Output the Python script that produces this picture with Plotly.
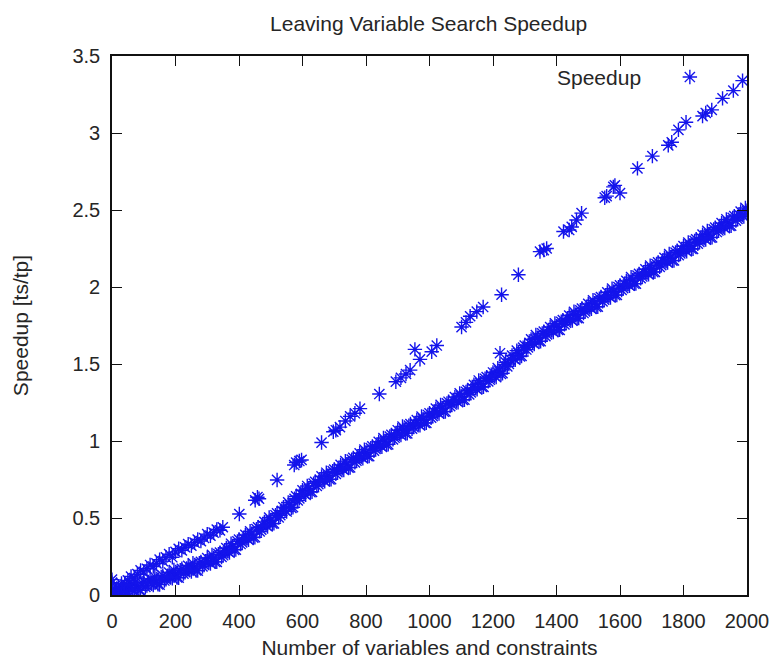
import plotly.graph_objects as go

# Main (dense) branch, first sweep: sizes 0, 10, ..., 2000
main_n_a = list(range(0, 2001, 10))
main_speedup_a = [
    0.030, 0.000, 0.020, 0.005, 0.045, 0.022, 0.065, 0.028, 0.060, 0.030,
    0.085, 0.061, 0.103, 0.064, 0.095, 0.068, 0.125, 0.102, 0.145, 0.108,
    0.140, 0.112, 0.170, 0.148, 0.190, 0.152, 0.185, 0.158, 0.215, 0.195,
    0.240, 0.205, 0.240, 0.215, 0.275, 0.258, 0.305, 0.275, 0.315, 0.295,
    0.360, 0.342, 0.390, 0.358, 0.395, 0.375, 0.440, 0.425, 0.475, 0.445,
    0.485, 0.465, 0.530, 0.518, 0.570, 0.542, 0.585, 0.570, 0.640, 0.628,
    0.680, 0.650, 0.690, 0.670, 0.735, 0.720, 0.770, 0.738, 0.775, 0.752,
    0.815, 0.798, 0.845, 0.812, 0.850, 0.828, 0.890, 0.872, 0.920, 0.888,
    0.925, 0.902, 0.965, 0.948, 0.995, 0.962, 1.000, 0.978, 1.040, 1.022,
    1.070, 1.038, 1.075, 1.050, 1.110, 1.090, 1.135, 1.102, 1.140, 1.118,
    1.180, 1.162, 1.210, 1.178, 1.215, 1.192, 1.255, 1.238, 1.285, 1.252,
    1.290, 1.268, 1.330, 1.315, 1.365, 1.335, 1.375, 1.352, 1.415, 1.398,
    1.445, 1.415, 1.455, 1.440, 1.510, 1.500, 1.555, 1.528, 1.570, 1.552,
    1.620, 1.608, 1.660, 1.630, 1.670, 1.648, 1.710, 1.692, 1.740, 1.708,
    1.745, 1.722, 1.785, 1.768, 1.815, 1.782, 1.820, 1.798, 1.860, 1.842,
    1.890, 1.858, 1.895, 1.872, 1.935, 1.918, 1.965, 1.932, 1.970, 1.948,
    2.010, 1.992, 2.040, 2.008, 2.045, 2.022, 2.085, 2.068, 2.115, 2.082,
    2.120, 2.098, 2.160, 2.142, 2.190, 2.158, 2.195, 2.172, 2.235, 2.218,
    2.265, 2.232, 2.270, 2.248, 2.310, 2.292, 2.340, 2.308, 2.345, 2.322,
    2.385, 2.368, 2.415, 2.382, 2.420, 2.398, 2.460, 2.442, 2.490, 2.458,
    2.495,
]

# Main branch, second sweep: sizes 5, 15, ..., 1995
main_n_b = list(range(5, 2000, 10))
main_speedup_b = [
    0.003, 0.043, 0.000, 0.038, 0.014, 0.046, 0.039, 0.082, 0.033, 0.078,
    0.053, 0.085, 0.076, 0.117, 0.069, 0.117, 0.094, 0.126, 0.119, 0.162,
    0.114, 0.161, 0.139, 0.172, 0.164, 0.206, 0.159, 0.207, 0.185, 0.220,
    0.215, 0.260, 0.215, 0.265, 0.247, 0.284, 0.283, 0.333, 0.293, 0.348,
    0.331, 0.369, 0.367, 0.414, 0.373, 0.428, 0.413, 0.453, 0.453, 0.503,
    0.463, 0.518, 0.504, 0.547, 0.549, 0.601, 0.565, 0.625, 0.614, 0.657,
    0.658, 0.708, 0.668, 0.723, 0.708, 0.748, 0.747, 0.794, 0.751, 0.804,
    0.787, 0.824, 0.821, 0.869, 0.827, 0.879, 0.861, 0.899, 0.897, 0.944,
    0.901, 0.954, 0.937, 0.974, 0.971, 1.019, 0.977, 1.029, 1.011, 1.049,
    1.047, 1.094, 1.050, 1.100, 1.080, 1.115, 1.111, 1.159, 1.117, 1.169,
    1.151, 1.189, 1.187, 1.234, 1.191, 1.244, 1.227, 1.264, 1.261, 1.309,
    1.267, 1.319, 1.303, 1.343, 1.343, 1.393, 1.351, 1.404, 1.387, 1.424,
    1.423, 1.473, 1.435, 1.495, 1.485, 1.530, 1.534, 1.587, 1.549, 1.606,
    1.594, 1.637, 1.638, 1.688, 1.647, 1.699, 1.681, 1.719, 1.717, 1.764,
    1.721, 1.774, 1.757, 1.794, 1.791, 1.839, 1.797, 1.849, 1.831, 1.869,
    1.867, 1.914, 1.871, 1.924, 1.907, 1.944, 1.941, 1.989, 1.947, 1.999,
    1.981, 2.019, 2.017, 2.064, 2.021, 2.074, 2.057, 2.094, 2.091, 2.139,
    2.097, 2.149, 2.131, 2.169, 2.167, 2.214, 2.171, 2.224, 2.207, 2.244,
    2.241, 2.289, 2.247, 2.299, 2.281, 2.319, 2.317, 2.364, 2.321, 2.374,
    2.357, 2.394, 2.391, 2.439, 2.397, 2.449, 2.431, 2.469, 2.467, 2.514,
]

# Upper branch: a dense run at small sizes, then sparse measurements
upper_n = [0, 0, 0, 10, 20, 30, 40, 50, 60, 70, 80, 90, 100, 110, 120, 130, 140,
           150, 160, 170, 180, 190, 200, 210, 220, 230, 240, 250, 260, 270, 280,
           290, 300, 310, 320, 330, 340,
           349, 401, 451, 458, 463, 520, 574, 580, 590, 597,
           660, 697, 705, 718, 735, 750, 765, 781, 842, 894,
           910, 926, 939, 954, 970, 1007, 1023, 1101, 1115, 1128,
           1149, 1169, 1222, 1227, 1280, 1348, 1360, 1369, 1422, 1440,
           1448, 1463, 1479, 1552, 1558, 1579, 1584, 1600, 1655, 1702,
           1752, 1763, 1784, 1808, 1860, 1870, 1889, 1923, 1957, 1986]
upper_speedup = [0.04, 0.08, 0.10, 0.03, 0.05, 0.075, 0.07, 0.095, 0.12, 0.11, 0.135, 0.16,
                 0.15, 0.17, 0.195, 0.185, 0.205, 0.23, 0.22, 0.245, 0.265, 0.245, 0.28,
                 0.30, 0.29, 0.31, 0.33, 0.32, 0.34, 0.36, 0.35, 0.37, 0.395, 0.385,
                 0.405, 0.425, 0.42,
                 0.44, 0.526, 0.615, 0.635, 0.625, 0.747, 0.844, 0.86, 0.87, 0.877,
                 0.99, 1.06, 1.07, 1.09, 1.13, 1.16, 1.18, 1.21, 1.305, 1.385,
                 1.41, 1.435, 1.46, 1.595, 1.53, 1.58, 1.62, 1.74, 1.77, 1.81,
                 1.84, 1.87, 1.57, 1.95, 2.08, 2.23, 2.24, 2.25, 2.36, 2.37,
                 2.39, 2.435, 2.48, 2.58, 2.59, 2.65, 2.66, 2.61, 2.77, 2.85,
                 2.92, 2.94, 3.02, 3.07, 3.11, 3.13, 3.15, 3.225, 3.275, 3.34]

x_ticks = [0, 200, 400, 600, 800, 1000, 1200, 1400, 1600, 1800, 2000]
y_ticks = [0, 0.5, 1, 1.5, 2, 2.5, 3, 3.5]
y_tick_text = ["0", "0.5", "1", "1.5", "2", "2.5", "3", "3.5"]

BLUE = "rgb(20,20,235)"
FONT = "Liberation Sans, Arial, sans-serif"
TEXT = "#262626"

marker = dict(symbol="asterisk-open", size=12, color=BLUE,
              line=dict(color=BLUE, width=1.4))

all_n = main_n_a + main_n_b + upper_n
all_speedup = main_speedup_a + main_speedup_b + upper_speedup

fig = go.Figure()
fig.add_trace(go.Scatter(x=all_n, y=all_speedup, mode="markers", marker=marker,
                         showlegend=False, name="Speedup"))

# Key symbol to the right of the label, gnuplot style
fig.add_trace(go.Scatter(x=[0.910], y=[0.961], xaxis="x2", yaxis="y2",
                         mode="markers", marker=marker, showlegend=False,
                         hoverinfo="skip"))

axis_common = dict(showline=True, linecolor="#111", linewidth=1.6, mirror="allticks",
                   ticks="inside", ticklen=10, tickwidth=1.2, tickcolor="#111",
                   showgrid=False, zeroline=False, automargin=False,
                   tickfont=dict(family=FONT, size=20, color=TEXT),
                   title_font=dict(family=FONT, size=21, color=TEXT))

fig.update_layout(
    width=778, height=661,
    margin=dict(l=112, r=31, t=56, b=66),
    paper_bgcolor="white", plot_bgcolor="white",
    title=dict(text="Leaving Variable Search Speedup", x=0.551, xanchor="center",
               y=0.964, yanchor="middle",
               font=dict(family=FONT, size=21, color=TEXT)),
    xaxis=dict(range=[0, 2000], tickvals=x_ticks, ticklabelstandoff=7,
               title=dict(text="Number of variables and constraints", standoff=10),
               **axis_common),
    yaxis=dict(range=[0, 3.5], tickvals=y_ticks, ticktext=y_tick_text, ticklabelstandoff=6,
               title=dict(text="Speedup [ts/tp]", standoff=38), **axis_common),
    xaxis2=dict(range=[0, 1], overlaying="x", visible=False),
    yaxis2=dict(range=[0, 1], overlaying="y", visible=False),
    annotations=[dict(text="Speedup", xref="paper", yref="paper", x=0.836, y=0.961,
                      xanchor="right", yanchor="middle", showarrow=False,
                      font=dict(family=FONT, size=21, color=TEXT))],
)

fig.write_html("out.html")
